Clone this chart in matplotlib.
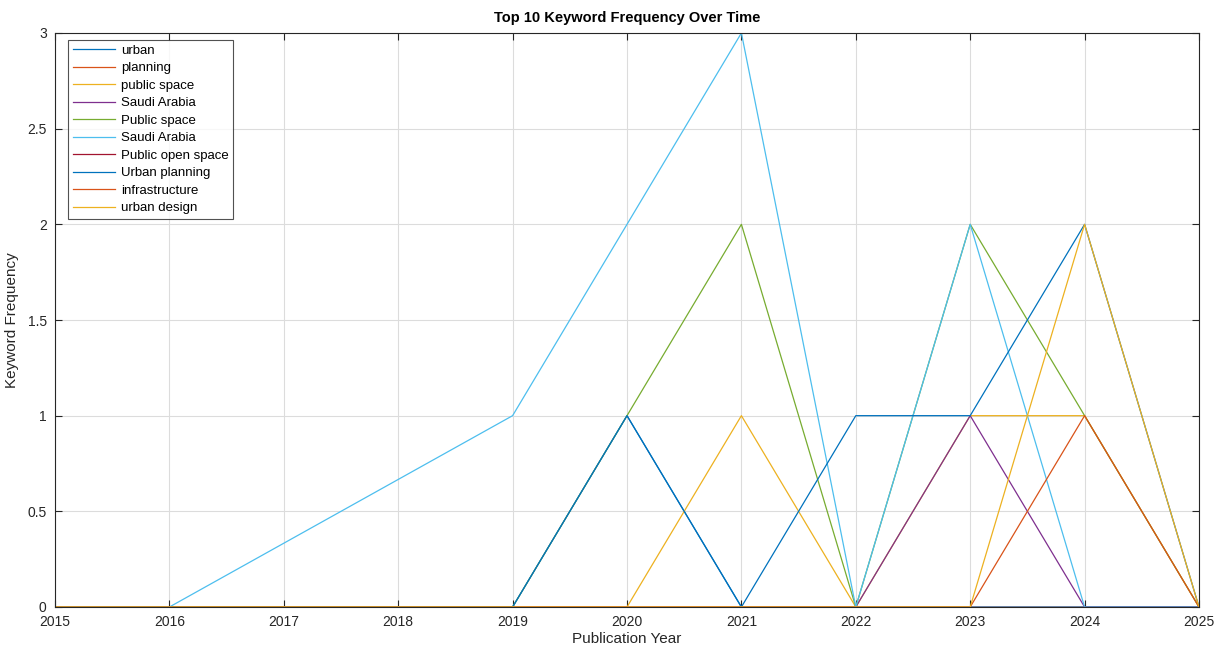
import matplotlib
matplotlib.use("Agg")
import matplotlib.pyplot as plt
import numpy as np

years = [2015, 2016, 2019, 2020, 2021, 2022, 2023, 2024, 2025]
keywords = ["urban", "planning", "public space", "Saudi Arabia", "Public space",
            "Saudi Arabia", "Public open space", "Urban planning", "infrastructure",
            "urban design"]
urban = [0, 0, 0, 1, 0, 0, 0, 0, 0]
planning = [0, 0, 0, 0, 0, 0, 0, 0, 0]
public_space = [0, 0, 0, 0, 1, 0, 1, 1, 0]
saudi_arabia = [0, 0, 0, 0, 0, 0, 1, 0, 0]
public_space_cap = [0, 0, 0, 1, 2, 0, 2, 1, 0]
saudi_arabia_cap = [0, 0, 1, 2, 3, 0, 2, 0, 0]
public_open_space = [0, 0, 0, 0, 0, 0, 0, 0, 0]
urban_planning = [0, 0, 0, 1, 0, 1, 1, 2, 0]
infrastructure = [0, 0, 0, 0, 0, 0, 0, 1, 0]
urban_design = [0, 0, 0, 0, 0, 0, 0, 2, 0]
series = [urban, planning, public_space, saudi_arabia, public_space_cap,
          saudi_arabia_cap, public_open_space, urban_planning, infrastructure,
          urban_design]
colors = ["#0072BD", "#D95319", "#EDB120", "#7E2F8E", "#77AC30", "#4DBEEE",
          "#A2142F", "#0072BD", "#D95319", "#EDB120"]

plt.rcParams['font.family'] = ['Liberation Sans', 'DejaVu Sans']
fig = plt.figure(figsize=(12.16, 6.52), dpi=100)
ax = fig.add_axes([55/1216, 1 - 607/652, (1199-55)/1216, (607-33)/652])

for vals, lab, c in zip(series, keywords, colors):
    ax.plot(years, vals, color=c, lw=0.9, label=lab, clip_on=True)

ax.set_xlim(2015, 2025)
ax.set_ylim(0, 3)
ax.set_xticks(range(2015, 2026))
ax.set_yticks([0, 0.5, 1, 1.5, 2, 2.5, 3])
ax.set_yticklabels(["0", "0.5", "1", "1.5", "2", "2.5", "3"])
ax.grid(True, color="#dcdcdc", lw=0.8)
ax.set_axisbelow(True)
for s in ax.spines.values():
    s.set_color("#262626")
    s.set_linewidth(0.8)
ax.tick_params(direction="in", length=5, width=0.8, colors="#262626",
               labelsize=10, top=True, right=True)
ax.tick_params(axis="x", pad=6)
ax.tick_params(axis="y", pad=6)
ax.set_title("Top 10 Keyword Frequency Over Time", fontsize=10.5,
             fontweight="bold", pad=8)
ax.set_xlabel("Publication Year", fontsize=11, color="#262626", labelpad=2)
ax.set_ylabel("Keyword Frequency", fontsize=11, color="#262626", labelpad=6)

leg = ax.legend(loc="upper left", bbox_to_anchor=(13/1144, 1 - 7/574),
                fontsize=9.5, frameon=True, fancybox=False, handlelength=3.2,
                handletextpad=0.45, labelspacing=0.4, borderpad=0.35,
                borderaxespad=0)
leg.get_frame().set_edgecolor("#262626")
leg.get_frame().set_linewidth(0.8)

fig.savefig("out.png", dpi=100)
